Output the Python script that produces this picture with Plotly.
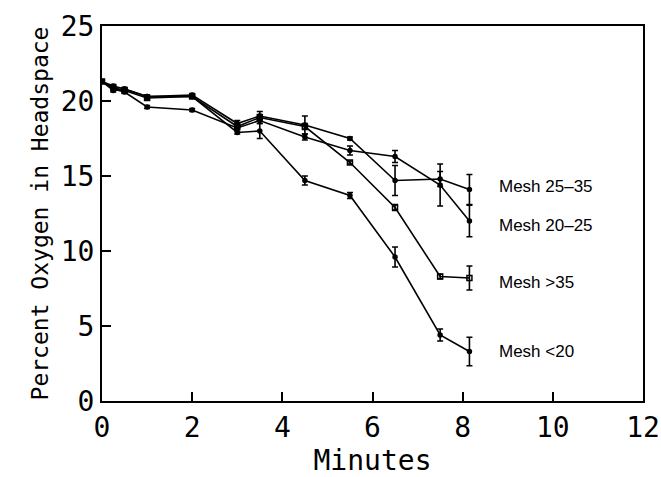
import plotly.graph_objects as go

minutes = [0, 0.25, 0.5, 1, 2, 3, 3.5, 4.5, 5.5, 6.5, 7.5, 8.15]

mesh_25_35 = [21.3, 21.0, 20.8, 20.3, 20.4, 18.5, 19.0, 18.4, 17.5, 14.7, 14.8, 14.1]
err_25_35 = [0, 0.1, 0.1, 0.1, 0.1, 0.2, 0.3, 0.6, 0.1, 1.0, 0.5, 1.0]

mesh_20_25 = [21.3, 20.8, 20.6, 19.6, 19.4, 18.2, 18.7, 17.6, 16.7, 16.3, 14.4, 12.0]
err_20_25 = [0, 0.1, 0.1, 0.1, 0.1, 0.1, 0.2, 0.2, 0.3, 0.4, 1.4, 1.05]

mesh_gt35 = [21.3, 20.9, 20.7, 20.2, 20.3, 18.3, 18.9, 18.3, 15.9, 12.9, 8.3, 8.2]
err_gt35 = [0, 0.1, 0.1, 0.1, 0.1, 0.1, 0.2, 0.2, 0.1, 0.2, 0.15, 0.8]

mesh_lt20 = [21.3, 20.7, 20.8, 20.3, 20.3, 17.9, 18.0, 14.7, 13.7, 9.6, 4.4, 3.3]
err_lt20 = [0, 0.1, 0.1, 0.1, 0.1, 0.1, 0.5, 0.3, 0.2, 0.67, 0.4, 0.95]

series_names = ["Mesh 25\u201335", "Mesh 20\u201325", "Mesh >35", "Mesh <20"]
series_vals = [mesh_25_35, mesh_20_25, mesh_gt35, mesh_lt20]
series_errs = [err_25_35, err_20_25, err_gt35, err_lt20]
label_y = [14.3, 11.7, 7.9, 3.3]
label_x = 8.76

x_ticks = [0, 2, 4, 6, 8, 10, 12]
y_ticks = [0, 5, 10, 15, 20, 25]

fig = go.Figure()
symbols = ["circle", "circle", "square-open", "circle"]
for name, vals, errs, sym in zip(series_names, series_vals, series_errs, symbols):
    fig.add_trace(go.Scatter(
        x=minutes, y=vals, mode="lines+markers", name=name,
        line=dict(color="black", width=1.6),
        marker=dict(symbol=sym, size=4 if sym == "circle" else 5, color="black",
                    line=dict(color="black", width=1.5)),
        error_y=dict(type="data", array=errs, visible=True, color="black",
                     thickness=1.6, width=3),
        showlegend=False,
    ))

for name, ly in zip(series_names, label_y):
    fig.add_annotation(x=label_x, y=ly, xref="x", yref="y", text=name,
                       showarrow=False, xanchor="left", yanchor="middle",
                       font=dict(family="Liberation Sans, Arial", size=17, color="black"))

tick_font = dict(family="DejaVu Sans Mono", size=28, color="black")
fig.update_layout(
    width=661, height=477,
    margin=dict(l=102, r=18, t=26, b=76),
    paper_bgcolor="white", plot_bgcolor="white",
    xaxis=dict(range=[0, 12], tickvals=x_ticks, ticks="inside", ticklen=9,
               tickwidth=1.5, tickcolor="black", showline=True, linecolor="black",
               linewidth=2, mirror=True, showgrid=False, zeroline=False,
               tickfont=tick_font, automargin=False,
               title=dict(text="Minutes", font=dict(family="DejaVu Sans Mono", size=28, color="black"),
                          standoff=0)),
    yaxis=dict(range=[0, 25], tickvals=y_ticks, ticks="inside", ticklen=9,
               tickwidth=1.5, tickcolor="black", showline=True, linecolor="black",
               linewidth=2, mirror=True, showgrid=False, zeroline=False,
               tickfont=tick_font, automargin=False,
               title=dict(text="Percent Oxygen in Headspace",
                          font=dict(family="DejaVu Sans Mono", size=23, color="black"),
                          standoff=6)),
)

fig.write_html("out.html")
